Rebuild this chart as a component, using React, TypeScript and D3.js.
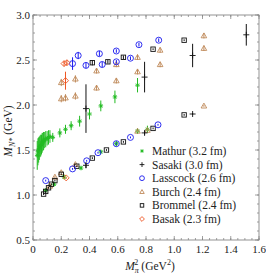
import React from "react";
import * as d3 from "d3";

const W = 266, H = 275;
const M = { left: 33, right: 7, top: 15, bottom: 35 };

// Mathur (green asterisks)
const mathurX = [0.030,0.035,0.040,0.045,0.050,0.055,0.060,0.065,0.070,0.075,0.080,0.090,0.100,0.110,0.120,0.14,0.19,0.23,0.27,0.33,0.40,0.48,0.58,0.74,0.09,0.15,0.22,0.34,0.48,0.59,0.74,0.81];
const mathurY = [1.44,1.48,1.50,1.52,1.54,1.55,1.56,1.58,1.59,1.60,1.61,1.62,1.63,1.64,1.65,1.64,1.69,1.73,1.77,1.82,1.90,1.99,2.09,2.22,1.05,1.12,1.20,1.30,1.48,1.57,1.71,1.73];
const mathurE = [0.16,0.15,0.14,0.13,0.12,0.12,0.11,0.11,0.10,0.10,0.09,0.09,0.08,0.08,0.07,0.05,0.05,0.05,0.05,0.06,0.06,0.06,0.07,0.08,0.02,0.02,0.02,0.02,0.02,0.03,0.03,0.04];
// Sasaki (black plus)
const sasakiX = [0.375,0.79,1.13,1.51,0.375,0.79,1.13];
const sasakiY = [1.96,2.31,2.55,2.78,1.33,1.69,1.90];
const sasakiE = [0.27,0.17,0.13,0.12,0.03,0.02,0.01];
// Lasscock (blue circles)
const lassX = [0.28,0.32,0.375,0.47,0.49,0.59,0.59,0.69,0.75,0.89,0.09,0.28,0.38,0.46,0.59,0.69,0.885];
const lassY = [2.46,2.55,2.44,2.57,2.45,2.60,2.48,2.52,2.67,2.72,1.16,1.29,1.38,1.47,1.57,1.64,1.78];
const lassE = [0.07,0.04,0.03,0.03,0.03,0.02,0.02,0.02,0.02,0.02,0.01,0.01,0.01,0.01,0.01,0.01,0.01];
// Burch (brown triangles)
const burchX = [0.20,0.20,0.23,0.30,0.30,0.45,0.45,0.59,0.59,0.74,0.74,0.90,0.90,1.21,1.21,0.12,0.155,0.20,0.30,0.74,0.81,1.21];
const burchY = [2.25,2.07,2.08,2.29,2.10,2.38,2.19,2.45,2.27,2.53,2.37,2.61,2.45,2.77,2.63,1.10,1.20,1.25,1.34,1.71,1.72,1.99];
const burchE = [0.04,0.04,0.04,0.04,0.04,0.03,0.03,0.03,0.03,0.03,0.03,0.03,0.03,0.03,0.03,0.01,0.01,0.01,0.01,0.01,0.01,0.01];
// Brommel (black squares)
const bromX = [0.42,0.53,0.64,0.85,1.07,0.075,0.09,0.11,0.13,0.155,0.20,0.31,0.42,0.52,0.64,0.85,1.07];
const bromY = [2.47,2.48,2.53,2.62,2.72,1.01,1.04,1.08,1.12,1.16,1.23,1.32,1.41,1.50,1.59,1.74,1.89];
const bromE = [0.03,0.02,0.02,0.01,0.01,0.01,0.01,0.01,0.01,0.01,0.01,0.01,0.01,0.01,0.01,0.01,0.01];
// Basak (orange diamonds)
const basakX = [0.22,0.24,0.23,0.235];
const basakY = [2.46,2.47,2.27,1.19];
const basakE = [0.03,0.03,0.10,0.01];

const xTicks = [0, 0.2, 0.4, 0.6, 0.8, 1.0, 1.2, 1.4, 1.6];
const yTicks = [0.5, 1.0, 1.5, 2.0, 2.5, 3.0];

const legendNames = ["Mathur (3.2 fm)", "Sasaki (3.0 fm)", "Lasscock (2.6 fm)", "Burch (2.4 fm)", "Brommel (2.4 fm)", "Basak (2.3 fm)"];

const cGreen = "#22bb22", cBlack = "#111111", cBlue = "#1a1aee", cBrown = "#c08a5a", cOrange = "#ee5522";

type Kind = "ast" | "plus" | "circle" | "tri" | "square" | "diamond";

function Marker({ kind, x, y, color, s = 1 }: { kind: Kind; x: number; y: number; color: string; s?: number }) {
  const sw = 0.9;
  switch (kind) {
    case "ast": {
      const r = 2.3 * s;
      return (
        <g stroke={color} strokeWidth={sw}>
          <line x1={x - r} y1={y} x2={x + r} y2={y} />
          <line x1={x} y1={y - r} x2={x} y2={y + r} />
          <line x1={x - r * 0.7} y1={y - r * 0.7} x2={x + r * 0.7} y2={y + r * 0.7} />
          <line x1={x - r * 0.7} y1={y + r * 0.7} x2={x + r * 0.7} y2={y - r * 0.7} />
        </g>
      );
    }
    case "plus": {
      const r = 3 * s;
      return (
        <g stroke={color} strokeWidth={sw}>
          <line x1={x - r} y1={y} x2={x + r} y2={y} />
          <line x1={x} y1={y - r} x2={x} y2={y + r} />
        </g>
      );
    }
    case "circle":
      return <circle cx={x} cy={y} r={3 * s} fill="none" stroke={color} strokeWidth={sw} />;
    case "tri": {
      const r = 2.8 * s;
      return <path d={`M${x},${y - r}L${x + r},${y + r * 0.75}L${x - r},${y + r * 0.75}Z`} fill="none" stroke={color} strokeWidth={sw} />;
    }
    case "square": {
      const r = 2.2 * s;
      return <rect x={x - r} y={y - r} width={2 * r} height={2 * r} fill="none" stroke={color} strokeWidth={sw} />;
    }
    case "diamond": {
      const r = 3 * s;
      return <path d={`M${x},${y - r}L${x + r},${y}L${x},${y + r}L${x - r},${y}Z`} fill="none" stroke={color} strokeWidth={sw} />;
    }
  }
  return null;
}

export default function App() {
  const x = d3.scaleLinear().domain([0, 1.6]).range([M.left, W - M.right]);
  const y = d3.scaleLinear().domain([0.5, 3.0]).range([H - M.bottom, M.top]);
  const x0 = M.left, x1 = W - M.right, y0 = H - M.bottom, y1 = M.top;

  const series: { xs: number[]; ys: number[]; es: number[]; kind: Kind; color: string }[] = [
    { xs: mathurX, ys: mathurY, es: mathurE, kind: "ast", color: cGreen },
    { xs: burchX, ys: burchY, es: burchE, kind: "tri", color: cBrown },
    { xs: bromX, ys: bromY, es: bromE, kind: "square", color: cBlack },
    { xs: lassX, ys: lassY, es: lassE, kind: "circle", color: cBlue },
    { xs: basakX, ys: basakY, es: basakE, kind: "diamond", color: cOrange },
    { xs: sasakiX, ys: sasakiY, es: sasakiE, kind: "plus", color: cBlack },
  ];
  const legendKinds: Kind[] = ["ast", "plus", "circle", "tri", "square", "diamond"];
  const legendColors = [cGreen, cBlack, cBlue, cBrown, cBlack, cOrange];

  const xMinor = d3.range(0, 1.6001, 0.05);
  const yMinor = d3.range(0.5, 3.0001, 0.1);
  const axisColor = "#888";
  const font = "'Liberation Serif', 'DejaVu Serif', serif";

  return (
    <svg width={W} height={H} style={{ position: "absolute", left: 0, top: 0 }} fontFamily={font}>
      <rect x={0} y={0} width={W} height={H} fill="#fff" />
      {/* ticks */}
      <g stroke={axisColor} strokeWidth={0.8}>
        {xMinor.map((t, i) => (
          <g key={"xm" + i}>
            <line x1={x(t)} x2={x(t)} y1={y0} y2={y0 - 2} />
            <line x1={x(t)} x2={x(t)} y1={y1} y2={y1 + 2} />
          </g>
        ))}
        {xTicks.map((t, i) => (
          <g key={"xM" + i}>
            <line x1={x(t)} x2={x(t)} y1={y0} y2={y0 - 4} />
            <line x1={x(t)} x2={x(t)} y1={y1} y2={y1 + 4} />
          </g>
        ))}
        {yMinor.map((t, i) => (
          <g key={"ym" + i}>
            <line x1={x0} x2={x0 + 2} y1={y(t)} y2={y(t)} />
            <line x1={x1} x2={x1 - 2} y1={y(t)} y2={y(t)} />
          </g>
        ))}
        {yTicks.map((t, i) => (
          <g key={"yM" + i}>
            <line x1={x0} x2={x0 + 4} y1={y(t)} y2={y(t)} />
            <line x1={x1} x2={x1 - 4} y1={y(t)} y2={y(t)} />
          </g>
        ))}
      </g>
      <rect x={x0} y={y1} width={x1 - x0} height={y0 - y1} fill="none" stroke={axisColor} strokeWidth={0.9} />
      {/* tick labels */}
      <g fontSize={11} fill="#222">
        {xTicks.map((t, i) => (
          <text key={"xl" + i} x={x(t)} y={y0 + 13} textAnchor="middle">{t === 0 ? "0" : t.toFixed(1)}</text>
        ))}
        {yTicks.map((t, i) => (
          <text key={"yl" + i} x={x0 - 3} y={y(t) + 4} textAnchor="end">{t.toFixed(1)}</text>
        ))}
      </g>
      {/* axis titles */}
      <text x={150} y={270} textAnchor="middle" fontSize={11.5} fill="#222">
        <tspan fontStyle="italic">M</tspan>
        <tspan fontSize={8} fontStyle="italic" dy={3}>π</tspan>
        <tspan fontSize={8} dx={-4.5} dy={-8}>2</tspan>
        <tspan dy={5} dx={3}>(GeV</tspan>
        <tspan fontSize={8} dy={-5}>2</tspan>
        <tspan dy={5}>)</tspan>
      </text>
      <text transform={`translate(12, 131) rotate(-90)`} textAnchor="middle" fontSize={11.5} fill="#222">
        <tspan fontStyle="italic">M</tspan>
        <tspan fontSize={8} fontStyle="italic" dy={3}>N*</tspan>
        <tspan dy={-3} dx={3}>(GeV)</tspan>
      </text>
      {/* data */}
      {series.map((s, si) => (
        <g key={"s" + si}>
          {s.xs.map((xv, i) => (
            <g key={i}>
              <line x1={x(xv)} x2={x(xv)} y1={y(s.ys[i] - s.es[i])} y2={y(s.ys[i] + s.es[i])} stroke={s.color} strokeWidth={1} />
              <Marker kind={s.kind} x={x(xv)} y={y(s.ys[i])} color={s.color} />
            </g>
          ))}
        </g>
      ))}
      {/* legend */}
      <g fontSize={11.5} fill="#222">
        {legendNames.map((n, i) => (
          <g key={"lg" + i}>
            <Marker kind={legendKinds[i]} x={142} y={155 + i * 13.6 - 4} color={legendColors[i]} s={0.8} />
            <text x={152} y={155 + i * 13.6}>{n}</text>
          </g>
        ))}
      </g>
    </svg>
  );
}
